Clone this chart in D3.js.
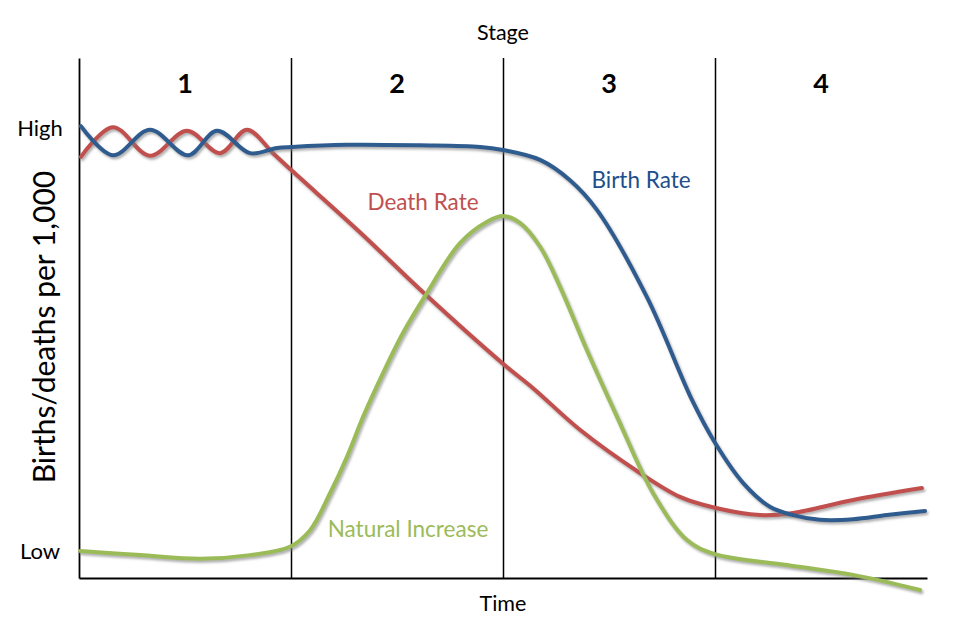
<!DOCTYPE html>
<html>
<head>
<meta charset="utf-8">
<script src="https://cdn.jsdelivr.net/npm/d3@7"></script>
<style>
  html, body { margin: 0; padding: 0; background: #fff; }
  svg { display: block; }
  text { font-family: Lato, "Open Sans", sans-serif; }
</style>
</head>
<body>
<svg id="chart" width="957" height="636"></svg>
<script>
// ---- Data (time in stage units 0..4, rate on arbitrary 0..100 scale) ----
const stageLabels = ["1", "2", "3", "4"];
const stageBounds = [0, 1, 2, 3];
const yTickValues = [5.2, 86.5];
const yTickLabels = ["Low", "High"];

const birthT = [0.009, 0.160, 0.335, 0.514, 0.651, 0.807, 0.934, 1.005, 1.264, 1.608, 1.892, 2.0, 2.175, 2.316, 2.443, 2.679, 2.892, 3.0, 3.132, 3.259, 3.368, 3.495, 3.651, 3.811, 3.991];
const birthV = [86.9, 81.3, 86.2, 81.3, 86.0, 81.7, 82.7, 82.9, 83.3, 83.2, 82.9, 82.3, 80.4, 76.5, 70.8, 54.0, 34.2, 26.0, 18.3, 13.7, 12.1, 11.2, 11.3, 12.1, 12.9];

const deathT = [0.009, 0.160, 0.335, 0.509, 0.665, 0.792, 0.915, 1.005, 1.325, 1.632, 2.0, 2.142, 2.363, 2.646, 2.835, 3.0, 3.212, 3.368, 3.651, 3.976];
const deathV = [81.0, 86.7, 81.2, 86.0, 81.7, 86.2, 81.7, 78.3, 66.5, 54.6, 41.2, 36.5, 28.5, 20.2, 15.6, 13.5, 12.1, 12.5, 15.0, 17.3];

const natT = [0.005, 0.288, 0.571, 0.807, 0.995, 1.090, 1.184, 1.264, 1.340, 1.434, 1.528, 1.632, 1.797, 1.925, 2.0, 2.080, 2.175, 2.269, 2.396, 2.538, 2.708, 2.868, 3.0, 3.34, 3.651, 3.967];
const natV = [5.2, 4.4, 3.7, 4.4, 6.0, 9.2, 16.3, 23.3, 31.0, 39.4, 47.1, 54.2, 64.4, 68.5, 69.6, 68.3, 63.7, 56.0, 43.8, 31.0, 16.3, 7.3, 4.6, 2.5, 0.6, -2.3];

const series = [
  { name: "Death Rate", t: deathT, v: deathV, color: "#c0504d" },
  { name: "Birth Rate", t: birthT, v: birthV, color: "#2f5b8f" },
  { name: "Natural Increase", t: natT, v: natV, color: "#9bbb59" }
];

// ---- Layout ----
const svg = d3.select("#chart");
const mLeft = 79, mRight = 927, mTop = 58, mBottom = 578;

const x = d3.scaleLinear().domain([0, 4]).range([mLeft, mRight]);
const y = d3.scaleLinear().domain([0, 100]).range([mBottom, mTop]);

const defs = svg.append("defs");
const f = defs.append("filter").attr("id", "shadow")
  .attr("x", "-5%").attr("y", "-5%").attr("width", "110%").attr("height", "110%");
f.append("feDropShadow").attr("dx", 1.5).attr("dy", 2.2).attr("stdDeviation", 1.3)
  .attr("flood-color", "#7a7a7a").attr("flood-opacity", 0.6);

// Stage dividers (bottom axis ticks extended upward)
const xAxis = d3.axisBottom(x).tickValues(stageBounds.slice(1))
  .tickSizeInner(-(mBottom - mTop)).tickSizeOuter(0).tickFormat("");
const gx = svg.append("g").attr("transform", `translate(0,${mBottom})`).call(xAxis);
gx.selectAll("path.domain").attr("stroke", "#000").attr("stroke-width", 1.8);
gx.selectAll(".tick line").attr("stroke", "#000").attr("stroke-width", 1.5);

// Y axis
const yAxis = d3.axisLeft(y).tickValues(yTickValues).tickSize(0)
  .tickFormat((d, i) => yTickLabels[i]);
const gy = svg.append("g").attr("transform", `translate(${mLeft},0)`).call(yAxis);
gy.selectAll("path.domain").attr("stroke", "#000").attr("stroke-width", 1.8);
gy.selectAll(".tick text").attr("x", -39).attr("text-anchor", "middle")
  .attr("font-size", 22).attr("fill", "#000").attr("dy", "0.35em")
  .style("font-family", "Lato, sans-serif");

// Lines
const line = d3.line().curve(d3.curveCatmullRom.alpha(0.5));
series.forEach(s => {
  const pts = s.t.map((t, i) => [x(t), y(s.v[i])]);
  svg.append("path").attr("d", line(pts)).attr("fill", "none")
    .attr("stroke", s.color).attr("stroke-width", 4)
    .attr("stroke-linecap", "round").attr("filter", "url(#shadow)");
});

// Stage labels
svg.append("g").selectAll("text").data(stageLabels).join("text")
  .attr("x", (d, i) => x(i + 0.5)).attr("y", 93)
  .attr("text-anchor", "middle").attr("font-size", 27).attr("font-weight", "bold")
  .text(d => d);

svg.append("text").attr("x", x(2)).attr("y", 40).attr("text-anchor", "middle")
  .attr("font-size", 21.5).text("Stage");
svg.append("text").attr("x", x(2)).attr("y", 611).attr("text-anchor", "middle")
  .attr("font-size", 21.5).text("Time");

svg.append("text").attr("transform", `translate(55,327) rotate(-90)`)
  .attr("text-anchor", "middle").attr("font-size", 30).text("Births/deaths per 1,000");

// Series labels
svg.append("text").attr("x", 423).attr("y", 210).attr("text-anchor", "middle")
  .attr("font-size", 22.5).attr("fill", "#c0504d").text("Death Rate");
svg.append("text").attr("x", 641).attr("y", 188).attr("text-anchor", "middle")
  .attr("font-size", 22.5).attr("fill", "#1f4e8c").text("Birth Rate");
svg.append("text").attr("x", 408).attr("y", 537).attr("text-anchor", "middle")
  .attr("font-size", 22.5).attr("fill", "#9bbb59").text("Natural Increase");
</script>
</body>
</html>
